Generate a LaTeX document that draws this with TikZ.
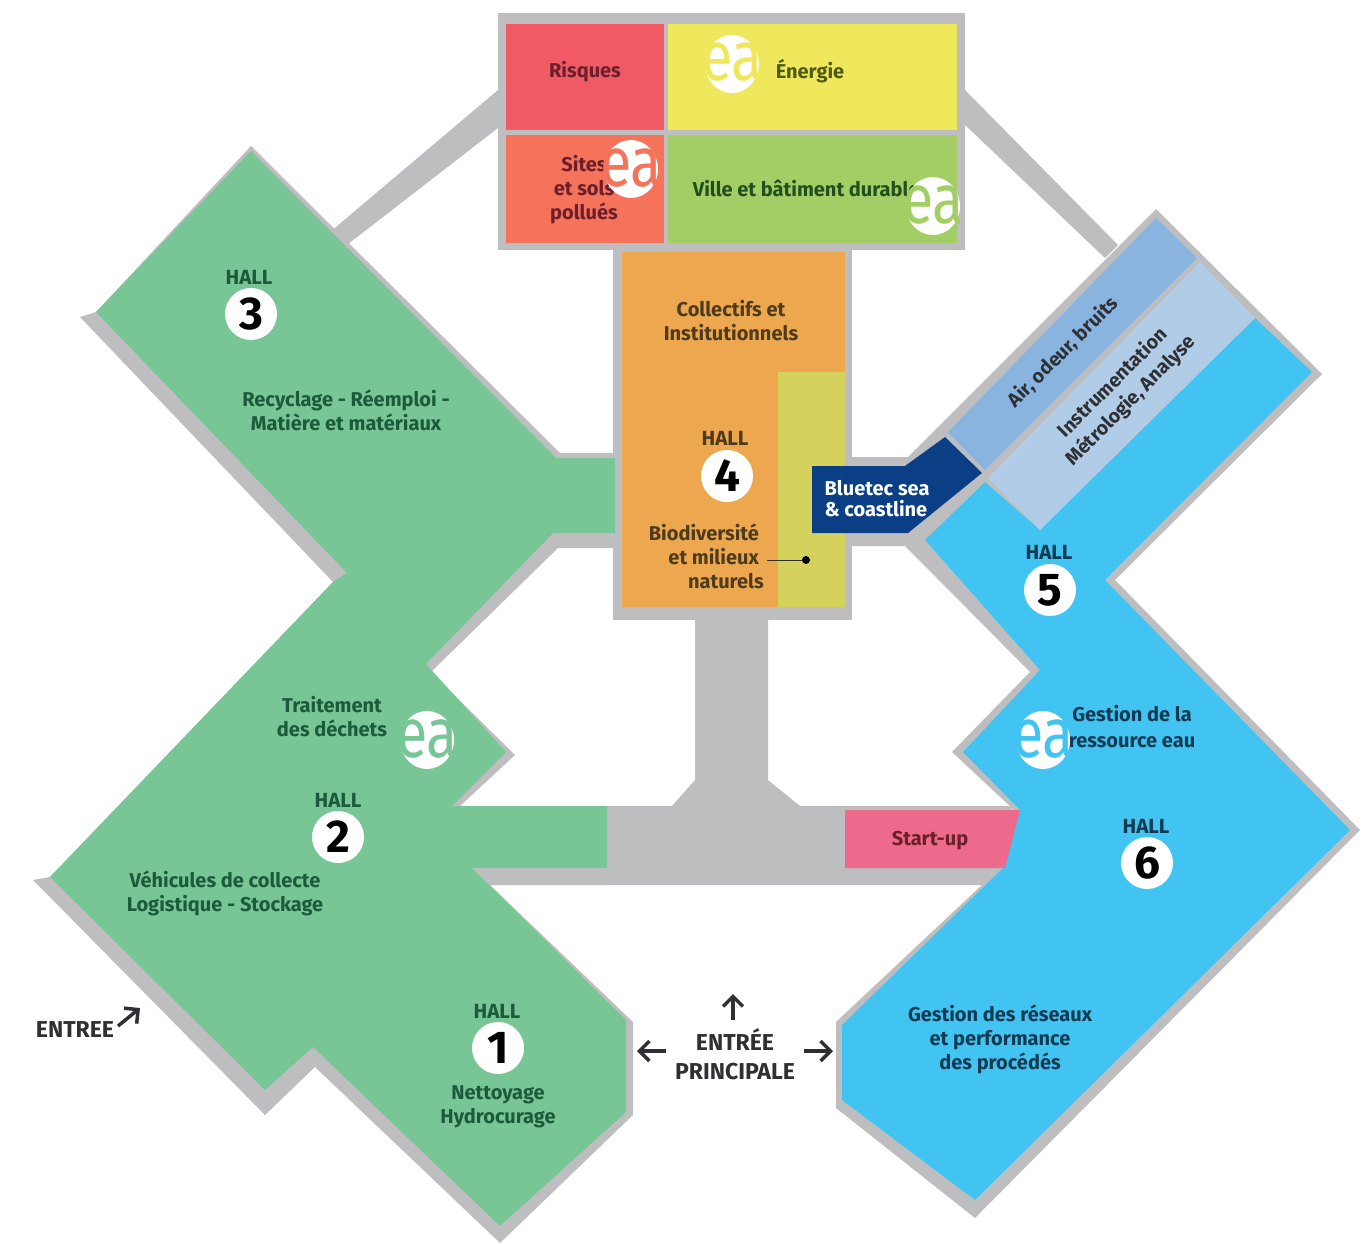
\documentclass[tikz,border=0pt]{standalone}
\usepackage{fontspec}
\setmainfont{Fira Sans}
\usetikzlibrary{arrows.meta}
\definecolor{cgreen}{HTML}{78C596}
\definecolor{cgray}{HTML}{BEBEC1}
\definecolor{cblue}{HTML}{42C4F2}
\definecolor{corange}{HTML}{EDA84F}
\definecolor{colive}{HTML}{D4D25C}
\definecolor{cred}{HTML}{F15A64}
\definecolor{cyellow}{HTML}{EFE85C}
\definecolor{csalmon}{HTML}{F4735A}
\definecolor{clime}{HTML}{A3CE65}
\definecolor{cbandA}{HTML}{8AB4E0}
\definecolor{cbandB}{HTML}{B0CCE6}
\definecolor{cnavy}{HTML}{0A3F86}
\definecolor{cpink}{HTML}{EE6A8C}
\definecolor{tgreen}{HTML}{1C5A3C}
\definecolor{tblue}{HTML}{123A52}
\definecolor{tbrown}{HTML}{4E3A1C}
\definecolor{tred}{HTML}{6A1F2C}
\definecolor{tolive}{HTML}{4F5A12}
\definecolor{tlime}{HTML}{234E1E}
\definecolor{tdark}{HTML}{2E3034}
\tikzset{
  lbl/.style={font=\fontsize{20}{24}\selectfont\bfseries,align=center,inner sep=0pt},
  diaglbl/.style={lbl,rotate=45,text=tdark,font=\fontsize{19.5}{25}\selectfont\bfseries},
  biglbl/.style={lbl,text=tdark,font=\fontsize{23}{29}\selectfont\bfseries},
  halllbl/.style={font=\fontsize{20.5}{22}\selectfont\bfseries,inner sep=0pt},
  badge/.style={circle,fill=white,minimum size=52pt,inner sep=0pt,text=black,font=\fontsize{46}{46}\selectfont\bfseries},
  exitarrow/.style={-{Straight Barb[length=10pt,width=20pt,line width=3.5pt]},line width=3.5pt,color=tdark},
  ealogo/.style={font=\fontsize{70}{70}\selectfont,inner sep=0pt,anchor=base},
}
\newcommand{\mylogo}[4]{%
  \fill[white] (#1,#2) ellipse [x radius=27, y radius=29];
  \node[ealogo,text=#3] (#4) at (#1,#2+17) {\scalebox{.82}[1]{ea}};
}
\begin{document}
\begin{tikzpicture}[x=1pt,y=-1pt]
\useasboundingbox (0,0) rectangle (1370,1244);
% gray structure
\fill[cgray] (498,90) -- (498,128) -- (343,248) -- (330,232) -- cycle;
\fill[cgray] (965,90) -- (1118,245) -- (1105,258) -- (965,125) -- cycle;
\fill[cgray] (498,13) rectangle (965,250);
\fill[cgray] (613,250) rectangle (852,620);
\fill[cgray] (695,610) -- (768,610) -- (768,780) -- (800,806) -- (1012,806) -- (1000,885) -- (488,885) -- (472,868) -- (607,806) -- (672,806) -- (695,780) -- cycle;
\fill[cgray] (251,146) -- (560,453) -- (620,453) -- (620,548) -- (558,548) -- (431,672) -- (515,755) -- (460,806) -- (607,806) -- (607,885) -- (490,885) -- (633,1022) -- (633,1115) -- (500,1243) -- (315,1067) -- (265,1115) -- (33,880) -- (50,877) -- (333,582) -- (80,317) -- (96,312) -- cycle;
\fill[cgray] (845,457) -- (908,457) -- (1156,209) -- (1322,374) -- (1115,580) -- (1360,830) -- (975,1218) -- (836,1108) -- (836,1022) -- (1000,868) -- (1012,808) -- (952,752) -- (1030,672) -- (905,546) -- (845,546) -- cycle;
% halls
\fill[cgreen] (251,151) -- (556,458) -- (615,458) -- (615,533) -- (553,533) -- (426,664) -- (506,752) -- (452,806) -- (607,806) -- (607,868) -- (472,868) -- (626,1020) -- (626,1112) -- (500,1226) -- (313,1047) -- (265,1090) -- (50,877) -- (333,582) -- (347,573) -- (96,312) -- cycle;
\fill[cblue] (925,540) -- (985,482) -- (1040,530) -- (1255,318) -- (1312,372) -- (1105,580) -- (1350,830) -- (975,1200) -- (842,1100) -- (842,1025) -- (1003,868) -- (1020,810) -- (963,752) -- (1040,670) -- cycle;
\fill[cbandA] (1156,218) -- (1197,258) -- (985,470) -- (948,432) -- cycle;
\fill[cbandB] (1200,262) -- (1255,318) -- (1040,530) -- (988,478) -- cycle;
\fill[cpink] (845,810) -- (1020,810) -- (1005,868) -- (845,868) -- cycle;
% top and centre blocks
\fill[cred] (506,24) rectangle (664,130);
\fill[cyellow] (668,24) rectangle (957,130);
\fill[csalmon] (506,135) rectangle (664,243);
\fill[clime] (668,135) rectangle (957,243);
\fill[corange] (622,252) rectangle (845,607);
\fill[colive] (778,372) rectangle (845,607);
\fill[cnavy] (812,466) -- (905,466) -- (945,437) -- (982,473) -- (908,533) -- (812,533) -- cycle;
% labels
\node[lbl,text=tred] (risques) at (585,72) {Risques};
\node[lbl,text=tolive] (energie) at (810,71) {Énergie};
\node[lbl,text=tred] (sites) at (584,190) {Sites\\et sols\\pollués};
\node[lbl,text=tlime] (ville) at (811,188) {Ville et bâtiment durables};
\node[lbl,text=tbrown] (collectifs) at (731,321) {Collectifs et\\Institutionnels};
\node[lbl,text=tbrown,align=right,anchor=east] (bio) at (759,556) {Biodiversité\\et milieux\\naturels\hspace*{-5pt}};
\node[lbl,text=tgreen] (recyclage) at (346,410) {Recyclage - Réemploi -\\Matière et matériaux};
\node[lbl,text=tgreen] (traitement) at (332,717) {Traitement\\des déchets};
\node[lbl,text=tgreen] (vehicules) at (225,893) {Véhicules de collecte\\Logistique - Stockage};
\node[lbl,text=tgreen] (nettoyage) at (498,1107) {Nettoyage\\Hydrocurage};
\node[lbl,text=tblue,font=\fontsize{20}{26}\selectfont\bfseries] (gestionA) at (1132,727) {Gestion de la\\ressource eau};
\node[lbl,text=tblue] (gestionB) at (1000,1039) {Gestion des réseaux\\et performance\\des procédés};
\node[lbl,text=tred] (startup) at (930,841) {Start-up};
\node[lbl,text=white,align=left,font=\fontsize{20}{21}\selectfont\bfseries] (bluetec) at (877,499) {Bluetec sea\\\& coastline};
\node[diaglbl] (air) at (1063,352) {Air, odeur, bruits};
\node[diaglbl] (instru) at (1122,392) {Instrumentation\\Métrologie, Analyse};
\node[biglbl] (entree) at (75,1030) {ENTREE};
\node[biglbl] (principale) at (735,1054) {ENTRÉE\\PRINCIPALE};
% hall badges
\node[halllbl,text=tgreen] (hallA) at (497,1011) {HALL};
\node[badge] (b1) at (498,1048) {1};
\node[halllbl,text=tgreen] (hallB) at (338,800) {HALL};
\node[badge] (b2) at (338,837) {2};
\node[halllbl,text=tgreen] (hallC) at (249,277) {HALL};
\node[badge] (b3) at (251,314) {3};
\node[halllbl,text=tbrown] (hallD) at (725,438) {HALL};
\node[badge] (b4) at (727,476) {4};
\node[halllbl,text=tblue] (hallE) at (1049,552) {HALL};
\node[badge] (b5) at (1050,590) {5};
\node[halllbl,text=tblue] (hallF) at (1146,826) {HALL};
\node[badge] (b6) at (1147,863) {6};
% ea logos
\mylogo{732}{64}{cyellow}{logoA}
\mylogo{631}{169}{csalmon}{logoB}
\mylogo{933}{206}{clime}{logoC}
\mylogo{427}{740}{cgreen}{logoD}
\mylogo{1043}{740}{cblue}{logoE}
% connectors
\node[circle,fill=black,minimum size=8pt,inner sep=0pt] (dot) at (806,560) {};
\coordinate (dotstart) at (767,560);
\draw[line width=1pt,color=tdark] (dotstart) -- (dot);
\coordinate (a1s) at (733,1020); \coordinate (a1e) at (733,994);
\coordinate (a2s) at (666,1051); \coordinate (a2e) at (637,1051);
\coordinate (a3s) at (804,1051); \coordinate (a3e) at (833,1051);
\coordinate (a4s) at (118,1026); \coordinate (a4e) at (140,1008);
\draw[exitarrow] (a1s) -- (a1e);
\draw[exitarrow] (a2s) -- (a2e);
\draw[exitarrow] (a3s) -- (a3e);
\draw[exitarrow] (a4s) -- (a4e);
\end{tikzpicture}
\end{document}
